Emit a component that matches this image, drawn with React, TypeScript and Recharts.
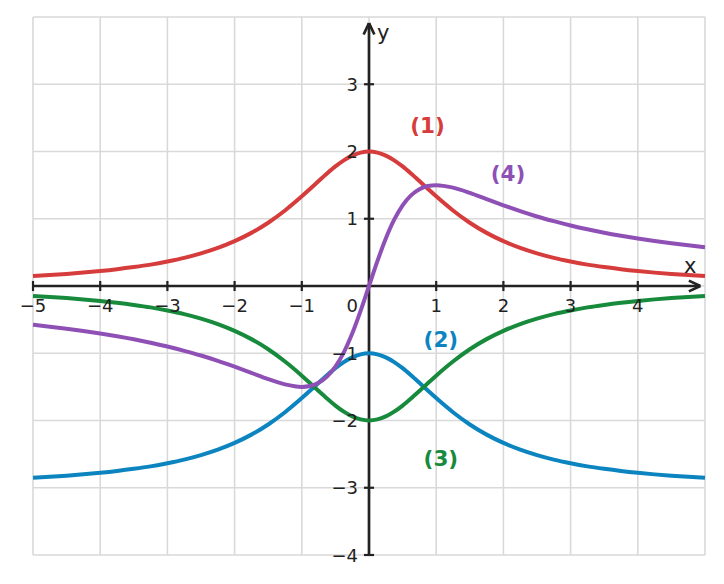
import React from 'react';
import { ComposedChart, Line, XAxis, YAxis, CartesianGrid, ReferenceLine, ReferenceDot } from 'recharts';

const xValues = [-5, -4.75, -4.5, -4.25, -4, -3.75, -3.5, -3.25, -3, -2.75, -2.5, -2.25, -2, -1.75, -1.5, -1.25, -1, -0.875, -0.75, -0.625, -0.5, -0.375, -0.25, -0.125, 0, 0.125, 0.25, 0.375, 0.5, 0.625, 0.75, 0.875, 1, 1.25, 1.5, 1.75, 2, 2.25, 2.5, 2.75, 3, 3.25, 3.5, 3.75, 4, 4.25, 4.5, 4.75, 5];

const curve1 = [0.148, 0.163, 0.18, 0.199, 0.222, 0.249, 0.281, 0.318, 0.364, 0.418, 0.485, 0.566, 0.667, 0.79, 0.941, 1.123, 1.333, 1.446, 1.561, 1.673, 1.778, 1.869, 1.939, 1.984, 2.0, 1.984, 1.939, 1.869, 1.778, 1.673, 1.561, 1.446, 1.333, 1.123, 0.941, 0.79, 0.667, 0.566, 0.485, 0.418, 0.364, 0.318, 0.281, 0.249, 0.222, 0.199, 0.18, 0.163, 0.148];

const curve2 = [-2.852, -2.837, -2.82, -2.801, -2.778, -2.751, -2.719, -2.682, -2.636, -2.582, -2.515, -2.434, -2.333, -2.21, -2.059, -1.877, -1.667, -1.554, -1.439, -1.327, -1.222, -1.131, -1.061, -1.016, -1.0, -1.016, -1.061, -1.131, -1.222, -1.327, -1.439, -1.554, -1.667, -1.877, -2.059, -2.21, -2.333, -2.434, -2.515, -2.582, -2.636, -2.682, -2.719, -2.751, -2.778, -2.801, -2.82, -2.837, -2.852];

const curve3 = [-0.148, -0.163, -0.18, -0.199, -0.222, -0.249, -0.281, -0.318, -0.364, -0.418, -0.485, -0.566, -0.667, -0.79, -0.941, -1.123, -1.333, -1.446, -1.561, -1.673, -1.778, -1.869, -1.939, -1.984, -2.0, -1.984, -1.939, -1.869, -1.778, -1.673, -1.561, -1.446, -1.333, -1.123, -0.941, -0.79, -0.667, -0.566, -0.485, -0.418, -0.364, -0.318, -0.281, -0.249, -0.222, -0.199, -0.18, -0.163, -0.148];

const curve4 = [-0.577, -0.605, -0.635, -0.669, -0.706, -0.747, -0.792, -0.843, -0.9, -0.964, -1.034, -1.113, -1.2, -1.292, -1.385, -1.463, -1.5, -1.487, -1.44, -1.348, -1.2, -0.986, -0.706, -0.369, 0, 0.369, 0.706, 0.986, 1.2, 1.348, 1.44, 1.487, 1.5, 1.463, 1.385, 1.292, 1.2, 1.113, 1.034, 0.964, 0.9, 0.843, 0.792, 0.747, 0.706, 0.669, 0.635, 0.605, 0.577];

const xGridTicks = [-5, -4, -3, -2, -1, 0, 1, 2, 3, 4];
const yGridTicks = [-4, -3, -2, -1, 0, 1, 2, 3];
const xTickValues = [-5, -4, -3, -2, -1, 1, 2, 3, 4];
const xTickLabels = ['−5', '−4', '−3', '−2', '−1', '1', '2', '3', '4'];
const yTickValues = [3, 2, 1, -1, -2, -3, -4];
const yTickLabels = ['3', '2', '1', '−1', '−2', '−3', '−4'];

const seriesNames = ['(1)', '(2)', '(3)', '(4)'];
const seriesColors = ['#d63c3c', '#0b84bf', '#178a3c', '#8f50b6'];
const seriesLabelX = [0.87, 1.07, 1.07, 2.07];
const seriesLabelY = [2.38, -0.79, -2.56, 1.68];
const seriesData = [curve1, curve2, curve3, curve4];

const rows = xValues.map((x, i) => ({ x, s1: curve1[i], s2: curve2[i], s3: curve3[i], s4: curve4[i] }));

const FONT = '"DejaVu Sans", sans-serif';
const AXIS = '#222222';

const textShape = (text: string, opts: { anchor: string; dx: number; dy: number; size: number; color: string; weight?: string }) =>
  (p: any) => (
    <text
      x={p.cx + opts.dx}
      y={p.cy + opts.dy}
      textAnchor={opts.anchor}
      fontFamily={FONT}
      fontSize={opts.size}
      fontWeight={opts.weight || 'normal'}
      fill={opts.color}
    >
      {text}
    </text>
  );

export default function App() {
  return (
    <div style={{ position: 'absolute', left: 0, top: 0, background: '#fff' }}>
      <ComposedChart width={724} height={584} data={rows} margin={{ top: 17, right: 19, bottom: 29, left: 33 }}>
        <CartesianGrid stroke="#d9d9d9" strokeWidth={1.6} />
        <XAxis type="number" dataKey="x" domain={[-5, 5]} ticks={xGridTicks} hide />
        <YAxis type="number" domain={[-4, 4]} ticks={yGridTicks} hide />

        {/* axes */}
        <ReferenceLine segment={[{ x: -5, y: 0 }, { x: 4.93, y: 0 }]} stroke={AXIS} strokeWidth={2.7} />
        <ReferenceLine segment={[{ x: 0, y: -4 }, { x: 0, y: 3.91 }]} stroke={AXIS} strokeWidth={2.7} />
        <ReferenceLine segment={[{ x: 4.76, y: 0.08 }, { x: 4.93, y: 0 }]} stroke={AXIS} strokeWidth={2.7} />
        <ReferenceLine segment={[{ x: 4.76, y: -0.08 }, { x: 4.93, y: 0 }]} stroke={AXIS} strokeWidth={2.7} />
        <ReferenceLine segment={[{ x: -0.08, y: 3.74 }, { x: 0, y: 3.91 }]} stroke={AXIS} strokeWidth={2.7} />
        <ReferenceLine segment={[{ x: 0.08, y: 3.74 }, { x: 0, y: 3.91 }]} stroke={AXIS} strokeWidth={2.7} />

        {xTickValues.map((v) => (
          <ReferenceLine key={'xt' + v} segment={[{ x: v, y: -0.075 }, { x: v, y: 0.075 }]} stroke={AXIS} strokeWidth={2.2} />
        ))}
        {yTickValues.map((v) => (
          <ReferenceLine key={'yt' + v} segment={[{ x: -0.075, y: v }, { x: 0.075, y: v }]} stroke={AXIS} strokeWidth={2.2} />
        ))}

        {xTickValues.map((v, i) => (
          <ReferenceDot key={'xl' + v} x={v} y={0} r={0}
            shape={textShape(xTickLabels[i], { anchor: 'middle', dx: 0, dy: 26, size: 18, color: AXIS })} />
        ))}
        {yTickValues.map((v, i) => (
          <ReferenceDot key={'yl' + v} x={0} y={v} r={0}
            shape={textShape(yTickLabels[i], { anchor: 'end', dx: -11, dy: 6.5, size: 18, color: AXIS })} />
        ))}
        <ReferenceDot x={0} y={0} r={0} shape={textShape('0', { anchor: 'end', dx: -11, dy: 26, size: 18, color: AXIS })} />
        <ReferenceDot x={4.78} y={0.3} r={0} shape={textShape('x', { anchor: 'middle', dx: 0, dy: 7, size: 21, color: AXIS })} />
        <ReferenceDot x={0.21} y={3.73} r={0} shape={textShape('y', { anchor: 'middle', dx: 0, dy: 5, size: 21, color: AXIS })} />

        {seriesData.map((_, i) => (
          <Line key={'s' + i} type="monotone" dataKey={'s' + (i + 1)} stroke={seriesColors[i]} strokeWidth={4}
            dot={false} activeDot={false} isAnimationActive={false} />
        ))}

        {seriesNames.map((n, i) => (
          <ReferenceDot key={'n' + i} x={seriesLabelX[i]} y={seriesLabelY[i]} r={0}
            shape={textShape(n, { anchor: 'middle', dx: 0, dy: 7.5, size: 21.5, color: seriesColors[i], weight: 'bold' })} />
        ))}
      </ComposedChart>
    </div>
  );
}
